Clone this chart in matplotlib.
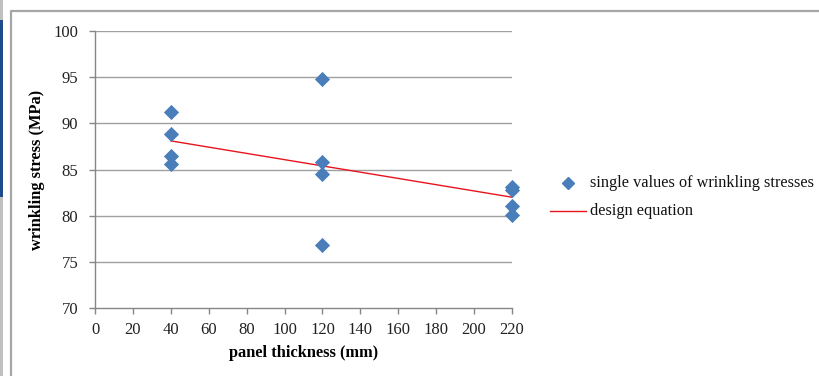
import matplotlib
matplotlib.use("Agg")
import matplotlib.pyplot as plt
from matplotlib.lines import Line2D
from matplotlib.patches import Rectangle

plt.rcParams['font.family'] = ['Liberation Serif', 'DejaVu Serif']

# data
thickness = [40, 40, 40, 40, 120, 120, 120, 120, 220, 220, 220, 220]
stress = [91.2, 88.8, 86.5, 85.6, 94.8, 85.8, 84.5, 76.8, 83.1, 82.8, 81.1, 80.1]
design_x = [40, 220]
design_y = [88.1, 82.0]
xticks = list(range(0, 221, 20))
yticks = list(range(70, 101, 5))

fig = plt.figure(figsize=(8.19, 3.76), dpi=100)
ax = fig.add_axes([95/819, (376-308)/376, (512-95)/819, (308-31)/376])

for y in yticks[1:]:
    ax.axhline(y, color='#a0a0a0', lw=1.0, zorder=0)

ax.plot(design_x, design_y, color='#e8141c', lw=1.0, zorder=2, clip_on=False)
ax.scatter(thickness, stress, marker='D', s=60, color='#4a7ebb', zorder=3, linewidths=0, clip_on=False)

ax.set_xlim(0, 220)
ax.set_ylim(70, 100)
ax.set_xticks(xticks)
ax.set_yticks(yticks)
for s in ['top', 'right']:
    ax.spines[s].set_visible(False)
for s in ['left', 'bottom']:
    ax.spines[s].set_color('#868686')
    ax.spines[s].set_linewidth(1.0)
ax.tick_params(axis='both', colors='#868686', labelcolor='#222222', labelsize=12, length=4, width=1)
ax.tick_params(axis='x', pad=6)
ax.tick_params(axis='y', pad=8)
ax.set_xlabel('panel thickness (mm)', fontsize=11.8, fontweight='bold', labelpad=5)
ax.set_ylabel('wrinkling stress (MPa)', fontsize=11.8, fontweight='bold', labelpad=6)

# legend
fig.add_artist(Line2D([568/819], [1-183/376], marker='D', markersize=6.5, color='#4a7ebb', lw=0,
                      transform=fig.transFigure))
fig.text(590/819, 1-183/376, 'single values of wrinkling stresses', fontsize=11.7, va='center', ha='left', color='#111111')
fig.add_artist(Line2D([550/819, 586/819], [1-211/376, 1-211/376], color='#e8141c', lw=1.0,
                      transform=fig.transFigure))
fig.text(590/819, 1-211/376, 'design equation', fontsize=11.7, va='center', ha='left', color='#111111')

# frame decorations
fig.add_artist(Line2D([10.5/819, 10.5/819, 1.0], [0, 1-10.5/376, 1-10.5/376], color='#a6a6a6', lw=1.6,
                      transform=fig.transFigure))
fig.add_artist(Rectangle((0, 0), 2.5/819, 1, transform=fig.transFigure, color='#c0c0c0', lw=0))
fig.add_artist(Rectangle((0, 1-197/376), 2.5/819, (197-20)/376, transform=fig.transFigure, color='#1f4a8c', lw=0))

fig.savefig('out.png', dpi=100)
